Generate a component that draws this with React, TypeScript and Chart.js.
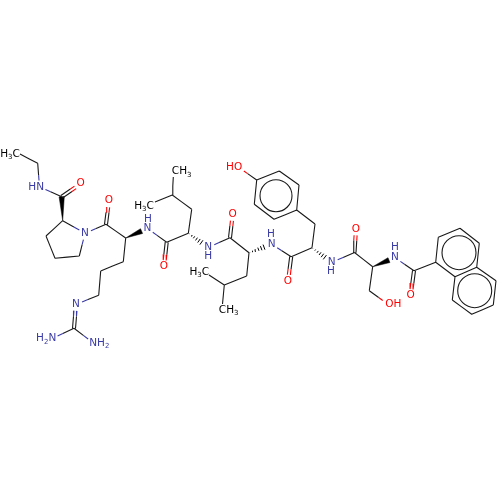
import { useEffect, useRef } from 'react';
import { Chart, type ChartConfiguration, type Plugin } from 'chart.js/auto';

// atom positions, in a 0-500 data space
const atomX = [
  20, 37.7, 39.5, 61.7, 80.7, 62.7, 85, 46, 55, 79.3,
  106, 109, 125.7, 147.5, 123.3, 100.7, 98.7, 76, 74, 51.7,
  93.3, 166.7, 164, 188.3, 191.7, 172.3, 173.3, 155, 208.3, 230,
  232.7, 249, 271.7, 246.7, 224.3, 209, 222.5, 291.2, 288, 312,
  315, 296.7, 299, 279.3, 256.7, 254.3, 274, 238.5, 331.7, 354.5,
  356, 372.7, 395, 369.3, 388, 414, 410.7, 435.7, 438.3, 460,
  479.3, 476.7, 455, 452.3, 471.7, 493.3, 496,
];
const atomY = [
  154, 163.3, 187, 196.7, 183.7, 220.7, 233.3, 236, 258.3, 256,
  224.3, 200.7, 238, 228.5, 261.7, 271, 295.3, 304.3, 328.3, 338.7,
  343, 242.3, 266.7, 233.3, 209.3, 195, 177, 202, 247.3, 237.7,
  214.3, 252.7, 244.3, 276, 285, 275, 304, 256.7, 281.3, 247.7,
  224, 210, 185, 171, 180, 204.3, 219.3, 167.3, 262.3, 252.5,
  228.8, 266.7, 257.7, 290.7, 304.3, 270.7, 295.7, 262.3, 237.3, 228.3,
  243.3, 267.3, 276.7, 300, 314.3, 305, 280.7,
];
const nitrogenAtoms = [2, 6, 13, 17, 19, 20, 28, 32, 48, 52];
const oxygenAtoms = [4, 11, 22, 30, 38, 47, 50, 54, 56];

const singleBonds = [
  [0, 1], [1, 2], [2, 3], [5, 6], [5, 7], [7, 8], [8, 9], [9, 6], [6, 10], [10, 12],
  [12, 14], [14, 15], [15, 16], [16, 17], [18, 19], [18, 20], [13, 21], [21, 23],
  [23, 24], [24, 25], [25, 26], [25, 27], [28, 29], [29, 31], [31, 33], [33, 34],
  [34, 35], [34, 36], [32, 37], [37, 39], [39, 40], [40, 41], [41, 42], [42, 43],
  [43, 44], [44, 45], [45, 46], [46, 41], [44, 47], [48, 49], [49, 51], [51, 53],
  [53, 54], [52, 55], [55, 57], [57, 58], [58, 59], [59, 60], [60, 61], [61, 62],
  [62, 57], [62, 63], [63, 64], [64, 65], [65, 66], [66, 61],
];
const doubleBonds = [[3, 4], [10, 11], [17, 18], [21, 22], [29, 30], [37, 38], [49, 50], [55, 56]];
// narrow end first
const wedgeBonds = [[5, 3], [12, 13], [51, 52]];
const hashBonds = [[23, 28], [31, 32], [39, 48]];

const ringX = [276, 459, 474.7];
const ringY = [195.7, 252.7, 290.7];
const ringR = [16, 17, 17];

const labelText = [
  'H3C', 'HN', 'O', 'N', 'O', 'N', 'H', 'O', 'N', 'H2N', 'NH2', 'CH3', 'H3C', 'N', 'H', 'O',
  'N', 'H', 'O', 'H3C', 'CH3', 'HO', 'N', 'H', 'O', 'N', 'H', 'OH', 'O',
];
const labelX = [
  10, 36.2, 80.7, 85, 109, 147.5, 148, 164, 76, 46.2, 99.3, 181.7, 144, 208.3, 208.3, 232.7,
  271.7, 271, 288, 199.3, 228.7, 234.2, 331.7, 331, 356, 395, 395, 393.3, 410.7,
];
const labelY = [
  154, 187.3, 183.7, 233.3, 200.7, 228.5, 219, 266.7, 304.3, 338.7, 343.3, 171.7, 206, 247.3, 256.7, 214.3,
  244.3, 234, 281.3, 272.3, 310, 167.3, 262.3, 271.7, 228.8, 257.7, 247.7, 304.3, 295.7,
];

const BLACK = '#000000';
const BLUE = '#3a3aa6';
const RED = '#ff0000';
const labelGap = 6.5;

type Pt = { x: number; y: number };
const gapPoint: Pt = { x: NaN, y: NaN };

function atomColor(i: number) {
  if (nitrogenAtoms.includes(i)) return BLUE;
  if (oxygenAtoms.includes(i)) return RED;
  return BLACK;
}

// ends of a bond, pulled back from atoms that carry a label
function bondEnds(a: number, b: number) {
  const dx = atomX[b] - atomX[a];
  const dy = atomY[b] - atomY[a];
  const len = Math.hypot(dx, dy);
  const ux = dx / len;
  const uy = dy / len;
  const ga = atomColor(a) === BLACK ? 0 : labelGap;
  const gb = atomColor(b) === BLACK ? 0 : labelGap;
  return {
    ax: atomX[a] + ux * ga, ay: atomY[a] + uy * ga,
    bx: atomX[b] - ux * gb, by: atomY[b] - uy * gb,
    ux, uy,
  };
}

function bondSegments() {
  const byColor: Record<string, Pt[]> = { [BLACK]: [], [BLUE]: [], [RED]: [] };
  const addBond = (a: number, b: number, off: number) => {
    const e = bondEnds(a, b);
    const ox = -e.uy * off;
    const oy = e.ux * off;
    const mx = (atomX[a] + atomX[b]) / 2 + ox;
    const my = (atomY[a] + atomY[b]) / 2 + oy;
    byColor[atomColor(a)].push({ x: e.ax + ox, y: e.ay + oy }, { x: mx, y: my }, gapPoint);
    byColor[atomColor(b)].push({ x: mx, y: my }, { x: e.bx + ox, y: e.by + oy }, gapPoint);
  };
  singleBonds.forEach(([a, b]) => addBond(a, b, 0));
  doubleBonds.forEach(([a, b]) => { addBond(a, b, -1.5); addBond(a, b, 1.5); });
  return byColor;
}

function hashSegments() {
  const out: Pt[] = [];
  hashBonds.forEach(([a, b]) => {
    const e = bondEnds(a, b);
    const len = Math.hypot(e.bx - e.ax, e.by - e.ay);
    for (let d = 1; d < len; d += 3) {
      const half = (d / len) * 3;
      const cx = e.ax + e.ux * d;
      const cy = e.ay + e.uy * d;
      out.push({ x: cx - e.uy * half, y: cy + e.ux * half }, { x: cx + e.uy * half, y: cy - e.ux * half }, gapPoint);
    }
  });
  return out;
}

function wedgeShape(a: number, b: number): Pt[] {
  const e = bondEnds(a, b);
  return [
    { x: e.ax, y: e.ay },
    { x: e.bx - e.uy * 2.6, y: e.by + e.ux * 2.6 },
    { x: e.bx + e.uy * 2.6, y: e.by - e.ux * 2.6 },
    { x: e.ax, y: e.ay },
  ];
}

function labelColor(text: string) {
  return text === 'O' || text === 'HO' || text === 'OH' ? RED : text.includes('C') ? BLACK : BLUE;
}

const atomLabels: Plugin<'scatter'> = {
  id: 'atomLabels',
  afterDatasetsDraw(chart) {
    const { ctx, scales } = chart;
    ctx.save();
    ctx.textBaseline = 'middle';
    ctx.textAlign = 'left';
    labelText.forEach((text, i) => {
      const parts = text.split('').map(ch => ({ ch, sub: /\d/.test(ch) }));
      const widths = parts.map(p => {
        ctx.font = `${p.sub ? 7 : 10.5}px "DejaVu Sans"`;
        return ctx.measureText(p.ch).width;
      });
      let x = scales.x.getPixelForValue(labelX[i]) - widths.reduce((s, w) => s + w, 0) / 2;
      const y = scales.y.getPixelForValue(labelY[i]);
      ctx.fillStyle = labelColor(text);
      parts.forEach((p, j) => {
        ctx.font = `${p.sub ? 7 : 10.5}px "DejaVu Sans"`;
        ctx.fillText(p.ch, x, p.sub ? y + 3 : y);
        x += widths[j];
      });
    });
    ctx.restore();
  },
};

export default function App() {
  const canvasRef = useRef<HTMLCanvasElement>(null);

  useEffect(() => {
    if (!canvasRef.current) return;
    const segs = bondSegments();
    const lineSet = (data: Pt[], color: string, width = 1.1) => ({
      data, showLine: true, borderColor: color, borderWidth: width, pointRadius: 0, fill: false,
    });
    const config: ChartConfiguration<'scatter'> = {
      type: 'scatter',
      data: {
        datasets: [
          lineSet(segs[BLACK], '#1a1a1a'),
          lineSet(segs[BLUE], BLUE),
          lineSet(segs[RED], RED),
          lineSet(hashSegments(), BLACK, 1),
          ...wedgeBonds.map(([a, b]) => ({
            data: wedgeShape(a, b), showLine: true, borderColor: BLACK, borderWidth: 0.5,
            backgroundColor: BLACK, pointRadius: 0, fill: 'shape' as const,
          })),
          {
            data: ringX.map((x, i) => ({ x, y: ringY[i] })),
            pointRadius: ringR,
            pointBackgroundColor: 'rgba(0,0,0,0)',
            pointBorderColor: '#1a1a1a',
            pointBorderWidth: 1.1,
          },
        ] as ChartConfiguration<'scatter'>['data']['datasets'],
      },
      options: {
        responsive: false,
        animation: false,
        layout: { padding: 0, autoPadding: false },
        plugins: { legend: { display: false }, tooltip: { enabled: false } },
        scales: {
          x: { type: 'linear', min: 0, max: 500, display: false },
          y: { type: 'linear', min: 0, max: 500, reverse: true, display: false },
        },
      },
      plugins: [atomLabels],
    };
    const chart = new Chart(canvasRef.current, config);
    return () => { chart.destroy(); };
  }, []);

  return (
    <div style={{ position: 'absolute', left: 0, top: 0, width: 500, height: 500, background: '#fff' }}>
      <canvas ref={canvasRef} width={500} height={500} style={{ display: 'block' }} />
    </div>
  );
}
